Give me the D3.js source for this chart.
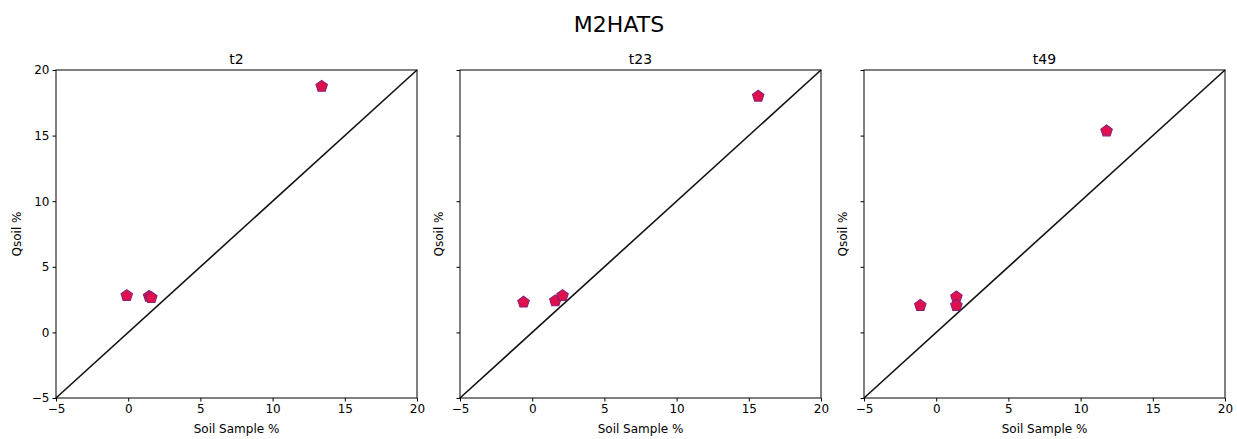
<!DOCTYPE html>
<html>
<head>
<meta charset="utf-8">
<script src="https://cdn.jsdelivr.net/npm/d3@7"></script>
<style>
  html, body { margin: 0; padding: 0; background: #fff; }
  svg text { font-family: "DejaVu Sans", sans-serif; fill: #000; }
</style>
</head>
<body>
<svg id="chart" width="1237" height="439"></svg>
<script>
// Site comparison: Qsoil estimate vs. soil sample, per time step
const panelNames = ["t2", "t23", "t49"];
const soilSample = [
  [-0.1, 1.45, 1.6, 13.4],
  [-0.6, 1.6, 2.1, 15.65],
  [-1.1, 1.4, 1.4, 11.8]
];
const qsoil = [
  [2.8, 2.75, 2.65, 18.75],
  [2.3, 2.4, 2.8, 18.0],
  [2.05, 2.7, 2.05, 15.35]
];
const axisTicks = [-5, 0, 5, 10, 15, 20];
const axisDomain = [-5, 20];
const oneToOne = [-5, 20];

const svg = d3.select("#chart");

svg.append("text")
  .attr("x", 619).attr("y", 32)
  .attr("text-anchor", "middle")
  .style("font-size", "22px")
  .text("M2HATS");

const panelLeft = [56, 460, 864];
const panelW = 361, panelTop = 70, panelH = 328;

// regular pentagon marker, point up
function pentagonPath(r) {
  const pts = d3.range(5).map(i => {
    const a = -Math.PI / 2 + i * 2 * Math.PI / 5;
    return [r * Math.cos(a), r * Math.sin(a)];
  });
  return "M" + pts.map(p => p[0].toFixed(2) + "," + p[1].toFixed(2)).join("L") + "Z";
}

const minusFmt = d => d < 0 ? "\u2212" + Math.abs(d) : String(d);

panelNames.forEach((name, pi) => {
  const x0 = panelLeft[pi];
  const g = svg.append("g").attr("transform", `translate(${x0},${panelTop})`);
  const x = d3.scaleLinear().domain(axisDomain).range([0, panelW]);
  const y = d3.scaleLinear().domain(axisDomain).range([panelH, 0]);

  // axes (y tick labels only on the first, shared-y panel)
  const xAxis = d3.axisBottom(x).tickValues(axisTicks).tickSize(3.5).tickPadding(3)
    .tickFormat(minusFmt);
  const yAxis = d3.axisLeft(y).tickValues(axisTicks).tickSize(3.5).tickPadding(3)
    .tickFormat(d => pi === 0 ? minusFmt(d) : "");

  const gx = g.append("g").attr("transform", `translate(0,${panelH})`).call(xAxis);
  const gy = g.append("g").call(yAxis);
  [gx, gy].forEach(a => {
    a.select(".domain").remove();
    a.selectAll("line").attr("stroke", "#000").attr("stroke-width", 1);
    a.selectAll("text").style("font-size", "12px").style("font-family", "DejaVu Sans, sans-serif");
  });

  // 1:1 reference line
  g.append("line")
    .attr("x1", x(oneToOne[0])).attr("y1", y(oneToOne[0]))
    .attr("x2", x(oneToOne[1])).attr("y2", y(oneToOne[1]))
    .attr("stroke", "#111").attr("stroke-width", 1.6);

  // frame
  g.append("rect")
    .attr("x", 0).attr("y", 0).attr("width", panelW).attr("height", panelH)
    .attr("fill", "none").attr("stroke", "#000").attr("stroke-width", 1);

  // points
  g.selectAll("path.pt")
    .data(soilSample[pi].map((v, i) => [v, qsoil[pi][i]]))
    .join("path")
    .attr("class", "pt")
    .attr("transform", d => `translate(${x(d[0])},${y(d[1])})`)
    .attr("d", pentagonPath(6))
    .attr("fill", "#e0104c")
    .attr("stroke", "#8a1d78")
    .attr("stroke-width", 1.1);

  // titles and labels
  g.append("text")
    .attr("x", panelW / 2).attr("y", -6)
    .attr("text-anchor", "middle")
    .style("font-size", "14px")
    .text(name);

  g.append("text")
    .attr("x", panelW / 2).attr("y", panelH + 35)
    .attr("text-anchor", "middle")
    .style("font-size", "12px")
    .text("Soil Sample %");

  g.append("text")
    .attr("transform", `translate(${pi === 0 ? -35 : -17},${panelH / 2}) rotate(-90)`)
    .attr("text-anchor", "middle")
    .style("font-size", "12px")
    .text("Qsoil %");
});
</script>
</body>
</html>
